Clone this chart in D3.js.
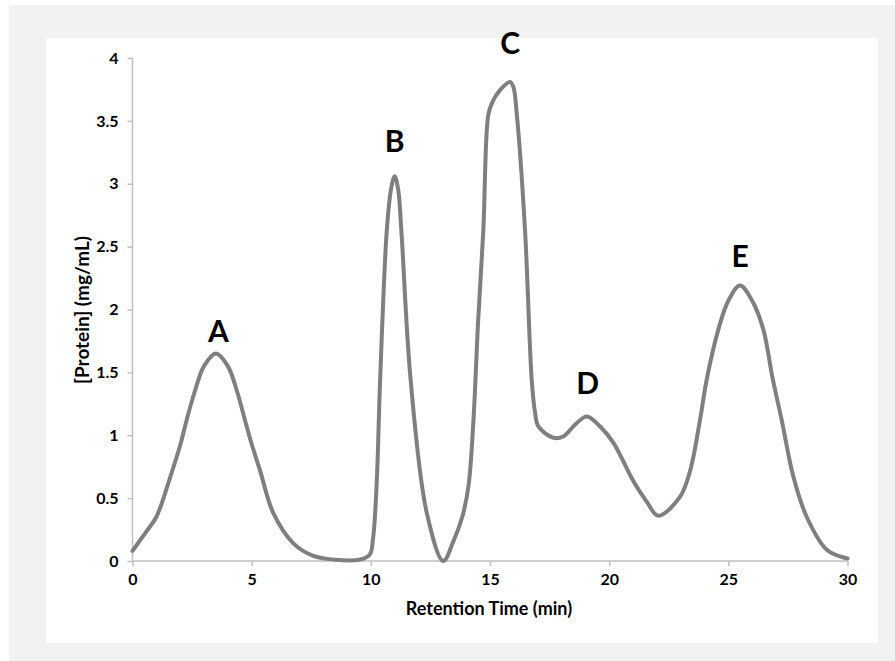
<!DOCTYPE html>
<html>
<head>
<meta charset="utf-8">
<script src="https://cdn.jsdelivr.net/npm/d3@7"></script>
<style>
  html, body { margin: 0; padding: 0; background: #ffffff; }
  svg { display: block; }
  text { font-family: Lato, "Open Sans", sans-serif; font-weight: 700; fill: #000; }
</style>
</head>
<body>
<svg id="chart" width="895" height="661"></svg>
<script>
// Retention time (min)
const timeMin = [0, 0.6, 1.0, 1.57, 2.0, 2.27, 2.6, 3.0, 3.5, 4.0, 4.4, 4.72, 5.0, 5.35, 5.91, 6.75, 7.59, 8.5, 9.5, 9.95,
  10.1, 10.25, 10.39, 10.67, 10.85, 11.0, 11.15, 11.28, 11.67, 12.35, 13.04,
  13.45, 13.85, 14.1, 14.3, 14.5, 14.72, 14.93, 15.1, 15.42, 15.84, 15.98, 16.12,
  16.47, 16.75, 16.89, 17.03, 17.66, 18.07, 18.6, 19.06, 19.62, 20.18, 21.0, 21.58, 22.06, 22.97, 23.4, 23.81,
  24.1, 24.58, 25.0, 25.49, 26.0, 26.47, 26.85, 27.24, 27.73, 28.29, 29.13, 30.0];
// [Protein] (mg/mL)
const protein = [0.08, 0.24, 0.35, 0.66, 0.92, 1.12, 1.34, 1.55, 1.65, 1.55, 1.34, 1.12, 0.93, 0.72, 0.38, 0.14, 0.04, 0.01, 0.01, 0.05,
  0.19, 0.64, 1.44, 2.63, 2.96, 3.06, 2.95, 2.63, 1.44, 0.38, 0.0,
  0.15, 0.36, 0.6, 1.1, 1.9, 2.63, 3.55, 3.65, 3.745, 3.81, 3.77, 3.56,
  2.63, 1.44, 1.18, 1.07, 0.98, 0.99, 1.09, 1.15, 1.07, 0.94, 0.64, 0.47, 0.36, 0.51, 0.72, 1.12,
  1.45, 1.84, 2.07, 2.19, 2.07, 1.84, 1.46, 1.12, 0.67, 0.35, 0.09, 0.02];
const peakNames = ["A", "B", "C", "D", "E"];
const peakTime = [3.6, 11.0, 15.85, 19.1, 25.5];
const peakLabelY = [1.84, 3.35, 4.13, 1.42, 2.43];
const xTicks = [0, 5, 10, 15, 20, 25, 30];
const yTicks = [0, 0.5, 1, 1.5, 2, 2.5, 3, 3.5, 4];
const xTitle = "Retention Time (min)";
const yTitle = "[Protein] (mg/mL)";

const svg = d3.select("#chart");
// outer grey frame & white panel
svg.append("rect").attr("x", 9).attr("y", 5).attr("width", 886).attr("height", 656).attr("fill", "#f2f2f2");
svg.append("rect").attr("x", 46).attr("y", 38).attr("width", 832).attr("height", 605).attr("fill", "#ffffff");

const x = d3.scaleLinear().domain([0, 30]).range([132.5, 847.5]);
const y = d3.scaleLinear().domain([0, 4]).range([561, 58]);

// Y axis
const yAxis = svg.append("g").attr("transform", `translate(${x(0)},0)`)
  .call(d3.axisLeft(y).tickValues(yTicks).tickSize(5).tickPadding(9).tickFormat(d => String(d)));
yAxis.select(".domain").attr("stroke", "#bfbfbf").attr("stroke-width", 1.5).attr("d", `M0,${y(4)}V${y(0)}`);
yAxis.selectAll(".tick line").attr("stroke", "#bfbfbf").attr("stroke-width", 1.5);
yAxis.selectAll(".tick text").attr("font-family", "Lato, sans-serif").attr("font-weight", 900)
  .attr("font-size", 16).attr("fill", "#000");

// X axis
const xAxis = svg.append("g").attr("transform", `translate(0,${y(0)})`)
  .call(d3.axisBottom(x).tickValues(xTicks).tickSize(5).tickPadding(8).tickFormat(d => String(d)));
xAxis.select(".domain").attr("stroke", "#bfbfbf").attr("stroke-width", 1.5).attr("d", `M${x(0)},0H${x(30)}`);
xAxis.selectAll(".tick line").attr("stroke", "#bfbfbf").attr("stroke-width", 1.5);
xAxis.selectAll(".tick text").attr("font-family", "Lato, sans-serif").attr("font-weight", 900)
  .attr("font-size", 16).attr("fill", "#000");

// Curve
const pts = timeMin.map((t, i) => [t, protein[i]]);
const line = d3.line().x(d => x(d[0])).y(d => y(d[1])).curve(d3.curveCatmullRom.alpha(0.5));
svg.append("path").datum(pts).attr("d", line)
  .attr("fill", "none").attr("stroke", "#7f7f7f").attr("stroke-width", 4)
  .attr("stroke-linejoin", "round").attr("stroke-linecap", "round");

// Peak labels
svg.selectAll("text.peak").data(peakNames).enter().append("text")
  .attr("class", "peak")
  .attr("x", (d, i) => x(peakTime[i]))
  .attr("y", (d, i) => y(peakLabelY[i]))
  .attr("text-anchor", "middle")
  .attr("dominant-baseline", "central")
  .attr("font-size", 30)
  .text(d => d);

// Axis titles
svg.append("text").attr("x", 489).attr("y", 608).attr("text-anchor", "middle")
  .attr("dominant-baseline", "central").attr("font-size", 18).text(xTitle);
svg.append("text").attr("transform", "translate(81,310) rotate(-90)").attr("text-anchor", "middle")
  .attr("dominant-baseline", "central").attr("font-size", 19).text(yTitle);
</script>
</body>
</html>
